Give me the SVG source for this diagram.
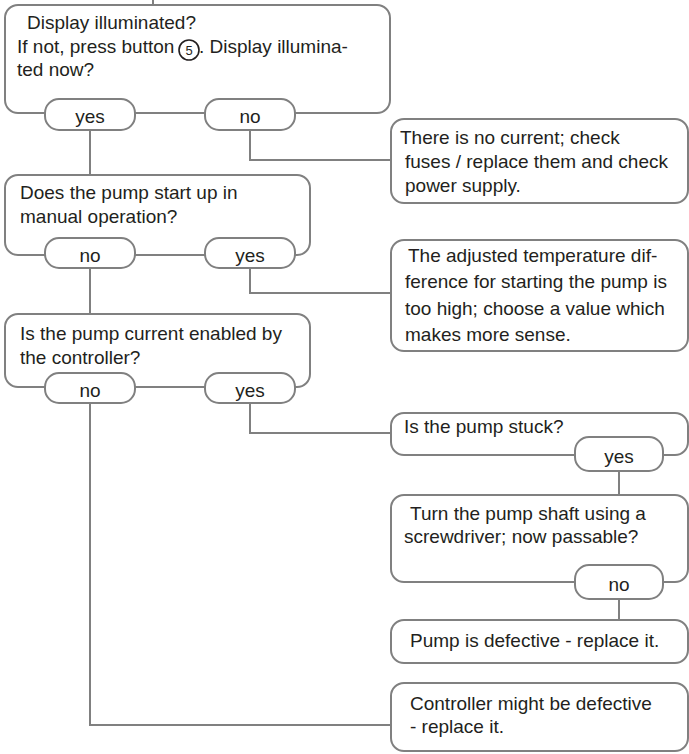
<svg xmlns="http://www.w3.org/2000/svg" width="689" height="754" viewBox="0 0 689 754">
<style>
.box{fill:#fff;stroke:#808080;stroke-width:2}
.pill{fill:#fff;stroke:#808080;stroke-width:2}
.ln{fill:none;stroke:#808080;stroke-width:2}
text{font-family:"Liberation Sans",Arial,sans-serif;font-size:19px;fill:#231f20}
.c{text-anchor:middle}
</style>
<rect width="689" height="754" fill="#fff"/>
<g id="connectors">
<path class="ln" d="M153 0V5"/>
<path class="ln" d="M90 130V175"/>
<path class="ln" d="M250 130V160H391"/>
<path class="ln" d="M90 268V314"/>
<path class="ln" d="M250 268V293H391"/>
<path class="ln" d="M250 403V433H391"/>
<path class="ln" d="M90 403V725H391"/>
<path class="ln" d="M619 471V495"/>
<path class="ln" d="M619 599V620"/>
</g>
<g id="q1">
<rect class="box" x="5" y="5" width="385" height="108" rx="13"/>
<text x="27" y="29">Display illuminated?</text>
<text x="17" y="53">If not, press button</text>
<circle cx="189" cy="50" r="10" fill="none" stroke="#231f20" stroke-width="1.6"/>
<text x="189" y="55" class="c" style="font-size:13px">5</text>
<text x="199" y="53">. Display illumina-</text>
<text x="17" y="76">ted now?</text>
</g>
<g id="q1-yes"><rect class="pill" x="45" y="99" width="90" height="31" rx="14"/><text x="90" y="123" class="c">yes</text></g>
<g id="q1-no"><rect class="pill" x="205" y="99" width="90" height="31" rx="14"/><text x="250" y="123" class="c">no</text></g>
<g id="a1">
<rect class="box" x="391" y="119" width="297" height="84" rx="13"/>
<text x="400" y="144">There is no current; check</text>
<text x="405" y="168">fuses / replace them and check</text>
<text x="405" y="192">power supply.</text>
</g>
<g id="q2">
<rect class="box" x="5" y="175" width="305" height="80" rx="13"/>
<text x="20" y="199">Does the pump start up in</text>
<text x="20" y="223">manual operation?</text>
</g>
<g id="q2-no"><rect class="pill" x="45" y="238" width="90" height="30" rx="14"/><text x="90" y="262" class="c">no</text></g>
<g id="q2-yes"><rect class="pill" x="205" y="238" width="90" height="30" rx="14"/><text x="250" y="262" class="c">yes</text></g>
<g id="a2">
<rect class="box" x="391" y="240" width="297" height="111" rx="13"/>
<text x="408" y="262">The adjusted temperature dif-</text>
<text x="405" y="288">ference for starting the pump is</text>
<text x="405" y="315">too high; choose a value which</text>
<text x="405" y="341">makes more sense.</text>
</g>
<g id="q3">
<rect class="box" x="5" y="314" width="305" height="73" rx="13"/>
<text x="20" y="340">Is the pump current enabled by</text>
<text x="20" y="364">the controller?</text>
</g>
<g id="q3-no"><rect class="pill" x="45" y="373" width="90" height="30" rx="14"/><text x="90" y="397" class="c">no</text></g>
<g id="q3-yes"><rect class="pill" x="205" y="373" width="90" height="30" rx="14"/><text x="250" y="397" class="c">yes</text></g>
<g id="q4">
<rect class="box" x="391" y="413" width="297" height="42" rx="13"/>
<text x="404" y="433">Is the pump stuck?</text>
</g>
<g id="q4-yes"><rect class="pill" x="575" y="437" width="88" height="34" rx="14"/><text x="619" y="463" class="c">yes</text></g>
<g id="q5">
<rect class="box" x="391" y="495" width="297" height="87" rx="13"/>
<text x="410" y="520">Turn the pump shaft using a</text>
<text x="404" y="543">screwdriver; now passable?</text>
</g>
<g id="q5-no"><rect class="pill" x="575" y="565" width="88" height="34" rx="14"/><text x="619" y="591" class="c">no</text></g>
<g id="a3">
<rect class="box" x="391" y="620" width="297" height="43" rx="13"/>
<text x="410" y="647">Pump is defective - replace it.</text>
</g>
<g id="a4">
<rect class="box" x="391" y="683" width="297" height="68" rx="13"/>
<text x="410" y="710">Controller might be defective</text>
<text x="410" y="733">- replace it.</text>
</g>
</svg>
